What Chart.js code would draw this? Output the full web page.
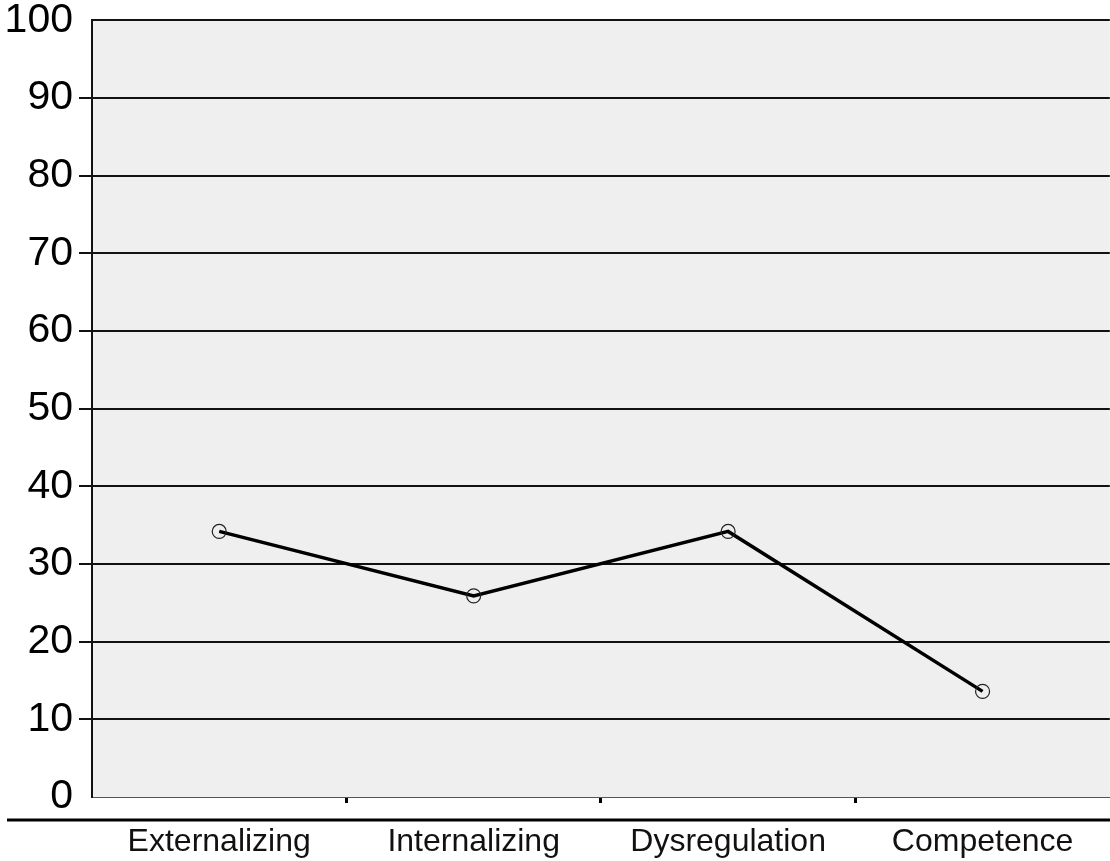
<!DOCTYPE html>
<html>
<head>
<meta charset="utf-8">
<script src="https://cdn.jsdelivr.net/npm/chart.js@4.4.1/dist/chart.umd.min.js"></script>
<style>
  html, body { margin: 0; padding: 0; background: #fff; overflow: hidden; }
  #wrap { position: relative; top: -4px; width: 1118px; height: 865px; }
</style>
</head>
<body>
<div id="wrap"><canvas id="grafico"></canvas></div>
<script>
// dados
const categorias = ['Externalizing', 'Internalizing', 'Dysregulation', 'Competence'];
const valores = [34.2, 25.9, 34.2, 13.6];
const yTicks = [0, 10, 20, 30, 40, 50, 60, 70, 80, 90, 100];

// fundo cinza da area do grafico + linha grossa abaixo do eixo x
const fundoPlugin = {
    id: 'fundo',
    beforeDraw(chart) {
        const a = chart.chartArea;
        const ctx = chart.ctx;
        ctx.save();
        ctx.fillStyle = '#efefef';
        ctx.fillRect(a.left, a.top, a.right - a.left, a.bottom - a.top);
        ctx.restore();
    },
    afterDraw(chart) {
        const x = chart.scales.x;
        const ctx = chart.ctx;
        ctx.save();
        ctx.strokeStyle = '#000';
        ctx.lineWidth = 3;
        ctx.beginPath();
        ctx.moveTo(7, x.top + 23);
        ctx.lineTo(chart.width, x.top + 23);
        ctx.stroke();
        ctx.restore();
    }
};

const ctx = document.getElementById('grafico').getContext('2d');
new Chart(ctx, {
    type: 'line',
    data: {
        labels: categorias,
        datasets: [{
            data: valores,
            borderColor: '#000',
            borderWidth: 3.5,
            tension: 0,
            fill: false,
            pointRadius: 7,
            pointBorderWidth: 1.2,
            pointBorderColor: '#222',
            pointBackgroundColor: 'rgba(0,0,0,0)'
        }]
    },
    options: {
        responsive: true,
        maintainAspectRatio: false,
        animation: false,
        layout: { padding: { left: 0, right: 0, top: 15, bottom: 0 } },
        plugins: { legend: { display: false }, tooltip: { enabled: false } },
        scales: {
            x: {
                offset: true,
                afterFit(s) { s.height = 64; },
                grid: {
                    offset: true,
                    drawOnChartArea: false,
                    tickLength: 6,
                    tickWidth: 3,
                    tickColor: c => (c.type !== 'tick' || c.index === 0) ? 'rgba(0,0,0,0)' : '#000'
                },
                border: { display: true, color: '#555', width: 1 },
                ticks: {
                    color: '#111',
                    padding: 20,
                    font: { family: '"Liberation Sans", Arial, sans-serif', size: 32 }
                }
            },
            y: {
                min: 0,
                max: 100,
                afterFit(s) { s.width = 92; },
                afterBuildTicks(s) { s.ticks = yTicks.map(v => ({ value: v })); },
                grid: {
                    color: c => (c.tick && (c.tick.value === 0)) ? 'rgba(0,0,0,0)' : '#111',
                    lineWidth: 2,
                    tickLength: 13,
                    tickColor: c => (c.tick && (c.tick.value === 0 || c.tick.value === 100)) ? 'rgba(0,0,0,0)' : '#111'
                },
                border: { display: true, color: '#111', width: 2 },
                ticks: {
                    color: '#000',
                    padding: 6,
                    font: { family: '"Liberation Sans", Arial, sans-serif', size: 41, lineHeight: 0.9 }
                }
            }
        }
    },
    plugins: [fundoPlugin]
});
</script>
</body>
</html>
